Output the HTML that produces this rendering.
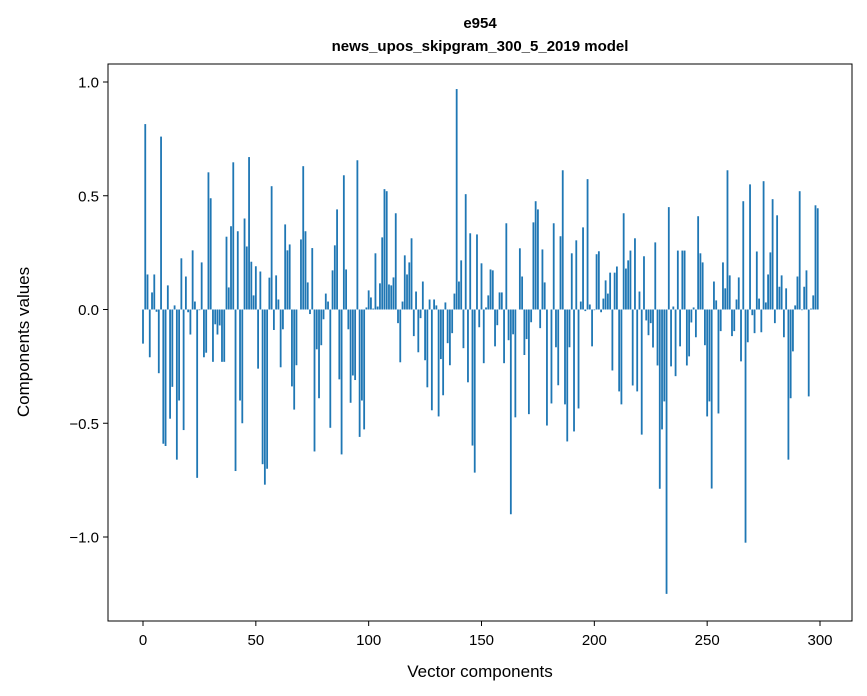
<!DOCTYPE html>
<html><head><meta charset="utf-8"><style>
html,body{margin:0;padding:0;background:#fff;}
svg{display:block;font-family:"Liberation Sans",sans-serif;}
</style></head><body>
<svg id="chart" width="867" height="696" xmlns="http://www.w3.org/2000/svg">
<rect width="867" height="696" fill="#fff"/>
<text x="480" y="28" text-anchor="middle" font-size="15" font-weight="bold">e954</text>
<text x="480" y="51" text-anchor="middle" font-size="15" font-weight="bold">news_upos_skipgram_300_5_2019 model</text>
<g id="bars"></g>
<g id="xticks"></g>
<g id="yticks"></g>
<rect x="108" y="64" width="744" height="557" fill="none" stroke="#000" stroke-width="1"/>
<text x="480" y="677" text-anchor="middle" font-size="17">Vector components</text>
<text transform="translate(29,342) rotate(-90)" text-anchor="middle" font-size="17">Components values</text>
</svg>
<script>
const values = [
-0.15,0.815,0.154,-0.21,0.075,0.154,-0.01,-0.28,0.76,-0.59,
-0.60,0.106,-0.48,-0.34,0.018,-0.66,-0.40,0.225,-0.53,0.145,
-0.012,-0.11,0.26,0.035,-0.74,-0.003,0.207,-0.21,-0.19,0.603,
0.489,-0.23,-0.065,-0.11,-0.07,-0.23,-0.23,0.32,0.097,0.366,
0.647,-0.71,0.344,-0.40,-0.50,0.40,0.277,0.67,0.21,0.062,
0.19,-0.26,0.167,-0.68,-0.77,-0.70,0.14,0.542,-0.09,0.15,
0.044,-0.254,-0.087,0.374,0.26,0.286,-0.338,-0.44,-0.245,0.0,
0.308,0.63,0.344,0.119,-0.02,0.27,-0.624,-0.175,-0.39,-0.157,
-0.043,0.07,0.035,-0.52,0.172,0.282,0.44,-0.307,-0.637,0.59,
0.176,-0.087,-0.41,-0.29,-0.31,0.656,-0.56,-0.40,-0.527,0.009,
0.084,0.053,0.004,0.247,0.013,0.115,0.317,0.529,0.52,0.11,
0.106,0.141,0.423,-0.06,-0.232,0.035,0.238,0.154,0.207,0.313,
-0.117,0.079,-0.188,-0.038,0.123,-0.223,-0.342,0.044,-0.443,0.044,
0.018,-0.47,-0.218,-0.377,0.031,-0.148,-0.245,-0.104,0.07,0.969,
0.123,0.216,-0.17,0.507,-0.32,0.335,-0.598,-0.717,0.33,-0.078,
0.203,-0.236,0.009,0.062,0.176,0.172,-0.162,-0.069,0.075,0.075,
-0.236,0.379,-0.135,-0.90,-0.109,-0.474,0.0,0.269,0.145,-0.2,
-0.13,-0.46,-0.056,0.383,0.476,0.44,-0.082,0.264,0.119,-0.51,
0.0,-0.413,0.379,-0.166,-0.333,0.322,0.612,-0.417,-0.58,-0.166,
0.247,-0.536,0.304,-0.435,0.035,0.361,-0.007,0.573,0.022,-0.162,
-0.003,0.243,0.256,-0.012,0.048,0.128,0.07,0.162,-0.268,0.162,
0.189,-0.36,-0.417,0.423,0.18,0.216,0.259,-0.334,0.313,-0.36,
0.079,-0.55,0.234,-0.048,-0.113,-0.06,-0.167,0.295,-0.246,-0.788,
-0.527,-0.404,-1.25,0.45,-0.25,0.013,-0.293,0.259,-0.162,0.259,
0.259,-0.246,-0.206,-0.057,0.009,-0.122,0.41,0.247,0.207,-0.157,
-0.47,-0.404,-0.787,0.123,0.04,-0.457,-0.095,0.207,0.093,0.612,
0.15,-0.117,-0.095,0.044,0.141,-0.228,0.476,-1.025,-0.144,0.55,
-0.025,-0.104,0.255,0.048,-0.1,0.564,0.031,0.154,0.251,0.485,
-0.06,0.414,0.1,0.15,-0.122,0.093,-0.66,-0.39,-0.184,0.018,
0.145,0.52,-0.003,0.1,0.172,-0.382,0.004,0.062,0.458,0.445
];
const xTicks = [0,50,100,150,200,250,300];
const yTicks = [1.0,0.5,0.0,-0.5,-1.0];
const yTickLabels = ["1.0","0.5","0.0","\u22120.5","\u22121.0"];

const NS="http://www.w3.org/2000/svg";
function xScale(v){ return 143 + v*(820-143)/300; }
function yScale(v){ return 309.5 - v*227.5; }
const barsG=document.getElementById('bars');
const bw=0.8*(820-143)/300;
values.forEach((v,i)=>{
  const r=document.createElementNS(NS,'rect');
  const y0=yScale(0), y1=yScale(v);
  r.setAttribute('x',xScale(i)-bw/2);
  r.setAttribute('y',Math.min(y0,y1));
  r.setAttribute('width',bw);
  r.setAttribute('height',Math.abs(y1-y0));
  r.setAttribute('fill','#1f77b4');
  
  
  barsG.appendChild(r);
});
const xg=document.getElementById('xticks');
xTicks.forEach(t=>{
  const x=xScale(t);
  const l=document.createElementNS(NS,'line');
  l.setAttribute('x1',x);l.setAttribute('x2',x);l.setAttribute('y1',621);l.setAttribute('y2',626);
  l.setAttribute('stroke','#000');
  
  
  xg.appendChild(l);
  const tx=document.createElementNS(NS,'text');
  tx.setAttribute('x',x);tx.setAttribute('y',645);tx.setAttribute('text-anchor','middle');tx.setAttribute('font-size','15');
  tx.textContent=String(t);
  
  
  xg.appendChild(tx);
});
const yg=document.getElementById('yticks');
yTicks.forEach((t,k)=>{
  const y=yScale(t);
  const l=document.createElementNS(NS,'line');
  l.setAttribute('x1',103);l.setAttribute('x2',108);l.setAttribute('y1',y);l.setAttribute('y2',y);
  l.setAttribute('stroke','#000');
  
  
  yg.appendChild(l);
  const tx=document.createElementNS(NS,'text');
  tx.setAttribute('x',99);tx.setAttribute('y',y+5.5);tx.setAttribute('text-anchor','end');tx.setAttribute('font-size','15');
  tx.textContent=yTickLabels[k];
  
  
  yg.appendChild(tx);
});
</script>
</body></html>
